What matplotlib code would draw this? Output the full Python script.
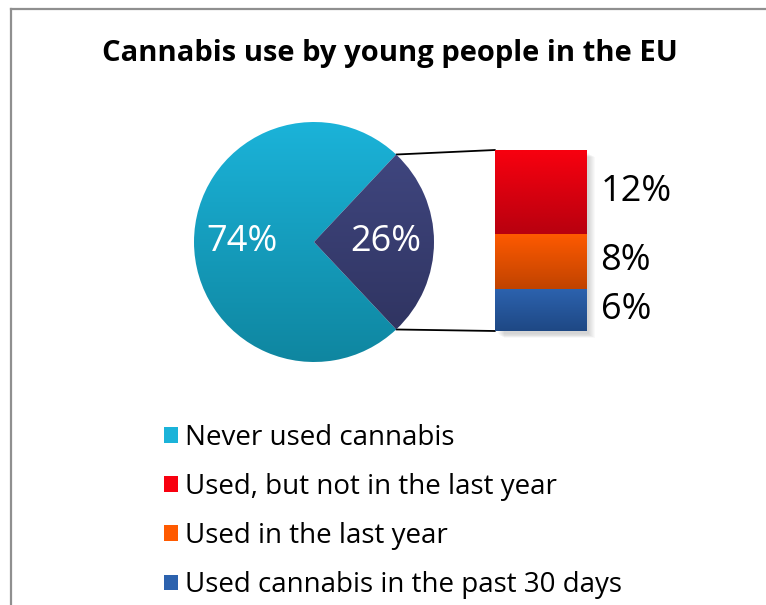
import numpy as np
import matplotlib
matplotlib.use('Agg')
import matplotlib.pyplot as plt
from matplotlib.colors import LinearSegmentedColormap
from matplotlib.patches import Rectangle, ConnectionPatch
from matplotlib.lines import Line2D

# data
pie_labels = ['Never used cannabis', 'Used cannabis']
pie_values = [74, 26]
bar_labels = ['Used, but not in the last year', 'Used in the last year',
              'Used cannabis in the past 30 days']
bar_values = [12, 8, 6]  # top to bottom of the stacked bar

# (top colour, bottom colour) for each gradient fill
pie_colors = [('#1bb3d9', '#0f86a0'), ('#424984', '#2d315c')]
bar_colors = [('#f8000f', '#b8000f'), ('#ff5a00', '#c04300'), ('#2c62ae', '#1e4884')]

plt.rcParams['font.family'] = ['Open Sans', 'DejaVu Sans']

W, H = 766, 605
fig = plt.figure(figsize=(W / 100, H / 100), dpi=100)


def px_box(x0, y0, x1, y1):
    # pixel box (top-left origin) -> figure fraction rect
    return [x0 / W, 1 - y1 / H, (x1 - x0) / W, (y1 - y0) / H]


def gradient_fill(ax, patch, top, bottom, extent):
    cmap = LinearSegmentedColormap.from_list('g', [bottom, top])
    grad = np.linspace(0, 1, 256).reshape(-1, 1)
    im = ax.imshow(grad, cmap=cmap, origin='lower', extent=extent,
                   aspect='auto', zorder=patch.get_zorder(), interpolation='bilinear')
    im.set_clip_path(patch)
    patch.set_facecolor('none')


# outer chart frame
fig.add_artist(Line2D([11 / W, 11 / W], [0, 1 - 9 / H], color='#8f8f8f', lw=1.6))
fig.add_artist(Line2D([11 / W, 1], [1 - 9 / H, 1 - 9 / H], color='#8f8f8f', lw=1.6))

fig.text(390 / W, 1 - 54 / H, 'Cannabis use by young people in the EU',
         ha='center', va='center', fontsize=21, fontweight='bold', color='black')

# main pie
ax_pie = fig.add_axes(px_box(194, 122, 434, 362))
start = 360 * pie_values[1] / sum(pie_values) / 2
wedges, texts, autotexts = ax_pie.pie(
    pie_values, startangle=start, counterclock=True, autopct='%d%%',
    pctdistance=0.6, wedgeprops=dict(linewidth=0),
    textprops=dict(color='white', fontsize=26))
for w, (top, bottom) in zip(wedges, pie_colors):
    gradient_fill(ax_pie, w, top, bottom, [-1, 1, -1, 1])
for t in autotexts:
    t.set_zorder(5)
ax_pie.set_xlim(-1, 1)
ax_pie.set_ylim(-1, 1)
ax_pie.set_aspect('equal')
ax_pie.axis('off')

# stacked bar breaking down the 26% slice
ax_bar = fig.add_axes(px_box(495, 150, 586, 331))
bottoms = np.cumsum([0] + bar_values[::-1][:-1])[::-1]
bars = ax_bar.bar(0.5, bar_values, width=1, bottom=bottoms, linewidth=0, zorder=2)
for b, (top, bottom) in zip(bars, bar_colors):
    x0, y0 = b.get_x(), b.get_y()
    gradient_fill(ax_bar, b, top, bottom, [x0, x0 + b.get_width(), y0, y0 + b.get_height()])
    ax_bar.text(1.16, y0 + b.get_height() / 2, f'{b.get_height():g}%',
                ha='left', va='center', fontsize=26, color='black')

# soft drop shadow under the bar
total = sum(bar_values)
for i in range(7):
    ax_bar.add_patch(Rectangle((0.03 + 0.012 * i, -0.5 - 0.08 * i), 1.0, total,
                               facecolor='black', alpha=0.025, lw=0, zorder=1,
                               clip_on=False))
ax_bar.set_xlim(0, 1)
ax_bar.set_ylim(0, total)
ax_bar.axis('off')

# connector lines from the slice edges to the bar
theta = np.deg2rad(start)
for sgn, yb in [(1, total), (-1, 0)]:
    con = ConnectionPatch(xyA=(np.cos(theta), sgn * np.sin(theta)), coordsA=ax_pie.transData,
                          xyB=(0, yb), coordsB=ax_bar.transData,
                          color='black', lw=1.3, zorder=0)
    fig.add_artist(con)

# legend
handles = [Rectangle((0, 0), 1, 1, facecolor=c[0], edgecolor='none')
           for c in [pie_colors[0]] + bar_colors]
fig.legend(handles, [pie_labels[0]] + bar_labels, loc='upper left',
           bbox_to_anchor=(164 / W, 1 - 424 / H), frameon=False, fontsize=20,
           handlelength=0.5, handleheight=0.5, handletextpad=0.27,
           labelspacing=0.76, borderpad=0, borderaxespad=0)

fig.savefig('out.png', dpi=100)
